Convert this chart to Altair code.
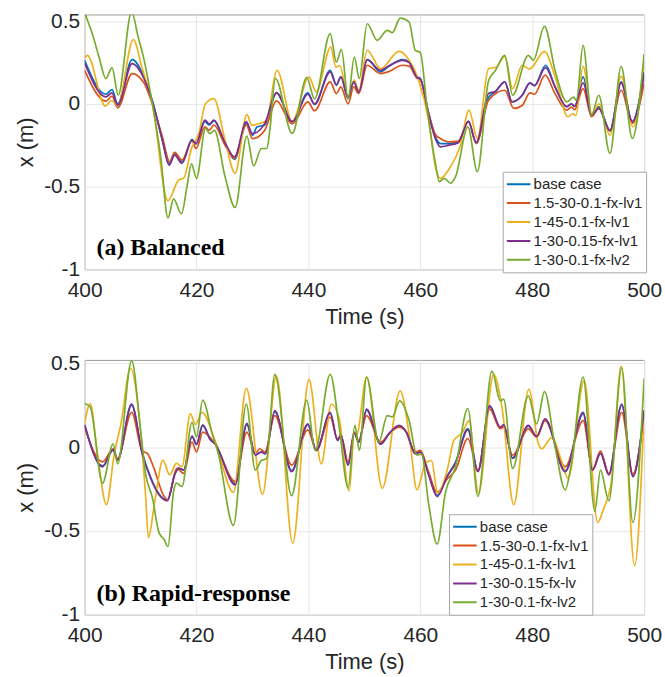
import altair as alt
import pandas as pd

FONT = "Liberation Sans"
SERIF = "Liberation Serif"
COLORS = ["#0072BD", "#D95319", "#EDB120", "#7E2F8E", "#77AC30"]
NAMES_A = ["base case", "1.5-30-0.1-fx-lv1", "1-45-0.1-fx-lv1", "1-30-0.15-fx-lv1", "1-30-0.1-fx-lv2"]
NAMES_B = ["base case", "1.5-30-0.1-fx-lv1", "1-45-0.1-fx-lv1", "1-30-0.15-fx-lv", "1-30-0.1-fx-lv2"]
X_TICKS = [400, 420, 440, 460, 480, 500]
Y_TICKS = [-1, -0.5, 0, 0.5]

# ---------------- Panel (a) Balanced ----------------
A_BASE_T = [400, 403.8, 404.9, 405.9, 408.5, 410.6, 412.1, 413.9, 415.1, 416.1, 417.4, 419.2, 419.9, 421.5, 422.3, 423.1,
            425.1, 426.8, 428.9, 430.0, 430.8, 432.2, 434.3, 437.1, 439.9, 441.1, 443.9, 445.0, 445.8, 447.1, 448.1, 449.0,
            450.5, 452.9, 454.4, 456.8, 458.0, 459.4, 460.0, 461.5, 462.7, 463.6, 465.1, 466.8, 468.6, 470.0, 472.2, 473.4,
            475.1, 476.4, 478.2, 479.6, 480.4, 482.4, 484.1, 486.2, 487.0, 487.6, 489.1, 490.6, 491.9, 493.9, 495.9, 497.9, 500]
A_BASE_X = [0.263, 0.058, 0.086, 0.0, 0.267, 0.163, 0.02, -0.22, -0.36, -0.30, -0.35, -0.215, -0.243, -0.108, -0.128, -0.102,
            -0.24, -0.335, -0.118, -0.19, -0.14, -0.128, 0.066, -0.108, 0.066, -0.004, 0.203, 0.116, 0.163, 0.032, 0.133, 0.072,
            0.267, 0.193, 0.227, 0.267, 0.253, 0.163, 0.153, -0.058, -0.2, -0.24, -0.24, -0.23, -0.104, -0.235, 0.038, 0.072,
            0.133, 0.012, 0.052, 0.127, 0.11, 0.233, 0.102, -0.018, 0.0, -0.015, 0.163, -0.068, -0.018, -0.159, 0.133, -0.108, 0.175]

A_R15_T = [400, 403.8, 404.9, 405.9, 408.5, 410.6, 412.1, 413.9, 415.2, 416.1, 417.4, 419.2, 419.9, 421.5, 422.3, 423.1,
           425.1, 426.8, 428.9, 430.0, 432.2, 434.3, 437.1, 439.9, 441.1, 443.9, 445.0, 445.8, 447.1, 448.1, 449.0,
           450.5, 452.9, 454.4, 456.8, 458.0, 459.4, 460.0, 461.5, 462.7, 463.6, 465.1, 466.8, 468.6, 470.0, 472.2,
           475.1, 476.7, 478.2, 479.6, 480.4, 482.3, 484.1, 486.2, 487.0, 487.6, 489.1, 490.6, 491.9, 493.9, 495.9, 497.9, 500]
A_R15_X = [0.203, 0.016, 0.046, -0.024, 0.183, 0.127, 0.0, -0.2, -0.35, -0.293, -0.34, -0.223, -0.27, -0.139, -0.159, -0.128,
           -0.25, -0.33, -0.128, -0.21, -0.159, 0.018, -0.122, 0.012, -0.042, 0.133, 0.062, 0.102, 0.0, 0.102, 0.062,
           0.233, 0.183, 0.195, 0.233, 0.228, 0.155, 0.145, -0.058, -0.185, -0.21, -0.23, -0.225, -0.108, -0.24, 0.022,
           0.082, -0.028, -0.01, 0.066, 0.058, 0.173, 0.06, -0.038, -0.02, -0.035, 0.092, -0.078, -0.028, -0.163, 0.082, -0.118, 0.125]

A_A45_T = [400, 400.5, 403.7, 404.8, 405.9, 408.7, 410.3, 412.1, 414.9, 416.8, 417.7, 419.2, 419.7, 420.4, 421.6, 423.1,
           425.1, 426.9, 429.0, 429.9, 431.1, 432.5, 434.4, 437.1, 440.1, 441.4, 444.0, 444.9, 445.6, 447.1, 448.2, 449.0,
           450.5, 452.9, 456.2, 458.0, 459.7, 461.5, 462.7, 463.6, 465.4, 467.1, 468.7, 470.2, 472.2, 473.5, 475.1, 476.5,
           478.2, 479.5, 482.2, 484.1, 486.4, 487.2, 487.8, 489.1, 490.7, 491.9, 493.9, 495.9, 498.0, 500]
A_A45_X = [0.275, 0.293, -0.014, 0.02, -0.008, 0.388, 0.213, 0.0, -0.586, -0.46, -0.45, -0.26, -0.23, -0.18, 0.0, 0.032,
           -0.22, -0.42, -0.065, -0.13, -0.12, -0.1, 0.203, -0.108, 0.163, 0.072, 0.343, 0.223, 0.23, 0.042, 0.143, 0.08,
           0.323, 0.213, 0.317, 0.263, 0.143, -0.1, -0.38, -0.45, -0.38, -0.26, -0.038, -0.209, 0.213, 0.22, 0.287, 0.092,
           0.233, 0.21, 0.317, 0.163, -0.078, -0.06, -0.07, 0.227, -0.068, 0.0, -0.189, 0.167, -0.139, 0.25]

A_D15_T = [400, 403.8, 404.9, 405.9, 408.5, 410.6, 412.1, 413.9, 415.1, 416.1, 417.4, 419.2, 419.9, 421.5, 422.3, 423.1,
           425.1, 426.8, 428.9, 430.0, 432.2, 434.3, 437.1, 439.9, 441.1, 443.9, 445.0, 445.8, 447.1, 448.1, 449.0,
           450.5, 452.9, 454.4, 456.8, 458.0, 459.4, 460.0, 461.5, 462.7, 463.6, 465.1, 466.8, 468.6, 470.0, 472.2, 473.4,
           475.1, 476.4, 478.2, 479.6, 480.4, 482.4, 484.1, 486.2, 487.0, 487.6, 489.1, 490.6, 491.9, 493.9, 495.9, 497.9, 500]
A_D15_X = [0.247, 0.042, 0.066, -0.008, 0.243, 0.153, 0.015, -0.22, -0.37, -0.31, -0.36, -0.22, -0.24, -0.098, -0.122, -0.098,
           -0.235, -0.32, -0.108, -0.18, -0.118, 0.066, -0.108, 0.058, 0.0, 0.193, 0.112, 0.163, 0.038, 0.133, 0.072,
           0.267, 0.203, 0.23, 0.263, 0.25, 0.16, 0.15, -0.065, -0.21, -0.26, -0.25, -0.235, -0.106, -0.235, 0.062, 0.075,
           0.133, 0.012, 0.05, 0.125, 0.11, 0.219, 0.1, -0.016, 0.0, -0.015, 0.127, -0.068, -0.028, -0.163, 0.127, -0.108, 0.19]

A_LV2_T = [400, 401.4, 402.6, 403.8, 404.9, 406.0, 408.4, 409.6, 410.6, 411.8, 413.6, 414.9, 415.9, 417.3, 418.3, 419.1,
           420.0, 421.6, 422.4, 423.2, 425.1, 426.9, 429.0, 430.2, 431.6, 432.6, 433.1, 434.1, 437.1, 439.7, 441.1, 443.9,
           445.0, 445.9, 447.1, 448.2, 449.1, 450.5, 452.3, 454.1, 455.0, 456.4, 458.0, 459.1, 460.0, 461.2, 462.7, 463.4,
           464.3, 465.4, 466.3, 468.5, 470.2, 472.2, 473.4, 475.1, 476.5, 479.3, 480.2, 482.2, 484.1, 486.2, 487.4, 487.9,
           489.1, 490.6, 491.9, 493.9, 495.9, 497.9, 500]
A_LV2_X = [0.55, 0.42, 0.28, 0.153, 0.219, 0.052, 0.554, 0.4, 0.27, 0.06, -0.32, -0.69, -0.574, -0.665, -0.5, -0.363,
           -0.45, -0.149, -0.18, -0.16, -0.44, -0.626, -0.195, -0.375, -0.27, -0.27, -0.16, 0.153, -0.179, 0.159, 0.03, 0.424,
           0.253, 0.329, 0.032, 0.283, 0.153, 0.484, 0.384, 0.444, 0.43, 0.518, 0.494, 0.323, 0.31, -0.02, -0.36, -0.47,
           -0.45, -0.48, -0.44, -0.139, -0.41, 0.14, 0.2, 0.293, 0.052, 0.293, 0.263, 0.468, 0.2, 0.012, 0.04, 0.02,
           0.353, -0.068, 0.052, -0.30, 0.227, -0.209, 0.3]

# ---------------- Panel (b) Rapid-response ----------------
B_D15_T = [400, 403.2, 405.1, 405.9, 408.4, 410.3, 411.8, 413.3, 414.8, 416.2, 416.8, 417.7, 419.2, 420.0, 421.1, 422.5,
           423.3, 426.9, 429.0, 430.5, 431.6, 432.3, 434.0, 437.0, 439.9, 441.4, 443.9, 445.2, 445.8, 447.1, 448.2, 449.0,
           450.4, 452.9, 454.4, 456.2, 457.5, 459.1, 460.0, 461.5, 463.0, 464.8, 466.3, 468.5, 470.3, 472.4, 474.3, 474.9,
           476.5, 479.3, 480.8, 482.3, 485.9, 489.1, 490.8, 492.2, 493.7, 496.0, 498.0, 500]
B_D15_X = [0.135, -0.118, -0.015, -0.078, 0.257, -0.04, -0.186, -0.284, -0.32, -0.157, -0.127, -0.137, 0.066, 0.017, 0.133, 0.044,
           0.02, -0.225, 0.142, -0.048, -0.03, -0.04, 0.217, -0.147, 0.139, -0.02, 0.207, 0.04, 0.07, -0.108, 0.084, 0.03,
           0.227, 0.017, 0.08, 0.13, 0.09, -0.04, -0.03, -0.167, -0.295, -0.176, -0.095, 0.103, -0.147, 0.247, 0.119, 0.133,
           -0.068, 0.129, 0.064, 0.168, -0.147, 0.207, -0.137, -0.038, -0.166, 0.257, -0.176, 0.22]

B_BASE_T = B_D15_T
B_BASE_X = [0.13, -0.112, -0.018, -0.075, 0.25, -0.035, -0.18, -0.28, -0.315, -0.152, -0.125, -0.135, 0.062, 0.015, 0.128, 0.042,
            0.02, -0.218, 0.136, -0.045, -0.028, -0.038, 0.21, -0.14, 0.134, -0.02, 0.2, 0.04, 0.068, -0.104, 0.082, 0.03,
            0.22, 0.018, 0.078, 0.126, 0.088, -0.038, -0.03, -0.162, -0.288, -0.172, -0.09, 0.11, -0.142, 0.24, 0.116, 0.13,
            -0.064, 0.125, 0.062, 0.163, -0.142, 0.2, -0.133, -0.036, -0.16, 0.25, -0.17, 0.215]

B_R15_T = [400, 403.2, 405.1, 405.9, 408.4, 410.3, 411.2, 412.4, 413.9, 414.8, 416.5, 417.7, 419.2, 420.0, 421.1, 423.3,
           426.9, 429.0, 430.5, 431.3, 432.2, 434.0, 437.0, 439.9, 441.4, 443.9, 445.2, 445.8, 447.1, 448.2, 449.0,
           450.4, 452.9, 454.4, 456.2, 457.5, 459.1, 460.0, 461.5, 463.0, 464.8, 466.3, 468.5, 470.3, 472.4, 474.3, 474.9,
           476.5, 479.3, 480.8, 482.3, 485.9, 489.1, 490.8, 492.2, 493.7, 496.0, 498.0, 500]
B_R15_X = [0.115, -0.088, -0.01, -0.068, 0.207, -0.023, -0.038, -0.127, -0.274, -0.314, -0.127, -0.157, 0.03, -0.029, 0.089, 0.02,
           -0.205, 0.089, -0.038, -0.01, -0.03, 0.188, -0.107, 0.103, -0.02, 0.178, 0.05, 0.07, -0.088, 0.09, 0.04,
           0.188, 0.03, 0.08, 0.119, 0.09, -0.03, -0.02, -0.15, -0.27, -0.19, -0.137, 0.05, -0.137, 0.227, 0.11, 0.12,
           -0.048, 0.109, 0.06, 0.158, -0.117, 0.158, -0.137, -0.023, -0.16, 0.207, -0.16, 0.19]

B_A45_T = [400, 401.0, 402.3, 403.9, 405.3, 406.5, 408.2, 409.7, 410.9, 411.4, 412.6, 414.0, 415.2, 416.4, 417.4, 418.9,
           419.8, 421.0, 423.3, 426.6, 428.9, 431.8, 434.3, 437.2, 440.1, 442.3, 444.1, 445.5, 447.3, 448.2, 448.6, 450.4,
           453.2, 456.4, 458.0, 459.4, 460.9, 462.0, 463.1, 464.8, 466.0, 467.5, 468.7, 470.4, 473.1, 474.6, 476.7, 479.4,
           481.1, 481.7, 483.5, 485.3, 486.4, 489.3, 491.7, 492.7, 494.2, 495.9, 498.3, 500]
B_A45_X = [0.14, 0.26, -0.04, -0.343, -0.04, 0.14, 0.47, 0.198, -0.29, -0.54, -0.31, -0.078, -0.166, -0.097, -0.117, 0.2,
           0.135, 0.207, 0.04, -0.27, 0.35, -0.28, 0.424, -0.573, 0.404, -0.1, 0.257, 0.17, -0.26, 0.08, 0.07, 0.418,
           -0.245, 0.335, 0.08, -0.255, -0.098, -0.08, -0.274, -0.137, 0.04, 0.085, 0.158, -0.274, 0.434, 0.237, -0.343, 0.345,
           0.02, -0.01, 0.056, -0.088, -0.186, 0.398, -0.45, -0.373, -0.196, 0.483, -0.707, 0.2]

B_LV2_T = [400, 401.0, 403.2, 405.1, 405.9, 408.4, 410.0, 410.9, 412.1, 413.3, 414.2, 414.9, 415.9, 416.4, 417.4, 419.2,
           420.0, 421.1, 422.8, 423.9, 426.6, 428.9, 430.5, 431.6, 432.5, 434.0, 437.0, 439.7, 441.2, 443.9, 445.5, 447.1,
           448.3, 449.1, 450.4, 452.6, 454.1, 455.0, 456.3, 458.0, 459.4, 460.2, 461.5, 463.0, 464.5, 466.3, 468.5, 470.3,
           472.8, 474.3, 474.9, 476.5, 479.3, 480.8, 482.2, 484.1, 485.9, 487.0, 489.1, 491.2, 492.2, 493.7, 496.0, 498.0, 500]
B_LV2_X = [0.26, 0.24, -0.216, 0.02, -0.1, 0.516, 0.1, -0.16, -0.3, -0.51, -0.55, -0.593, -0.265, -0.215, -0.235, 0.148,
           0.06, 0.28, 0.08, -0.04, -0.467, 0.257, -0.137, -0.08, -0.07, 0.434, -0.29, 0.28, -0.02, 0.434, 0.12, -0.245,
           0.13, -0.02, 0.418, 0.03, 0.188, 0.18, 0.276, 0.158, -0.048, -0.04, -0.34, -0.579, -0.27, -0.117, 0.23, -0.294,
           0.453, 0.276, 0.286, -0.127, 0.306, 0.139, 0.331, 0.0, -0.255, -0.1, 0.418, -0.383, -0.137, -0.32, 0.473, -0.45, 0.41]


def make_df(names, series):
    rows = []
    for k, (ts, xs) in enumerate(series):
        for t, x in zip(ts, xs):
            rows.append({"series": names[k], "k": k, "t": t, "x": x})
    return pd.DataFrame(rows)


df_a = make_df(NAMES_A, [(A_BASE_T, A_BASE_X), (A_R15_T, A_R15_X), (A_A45_T, A_A45_X),
                         (A_D15_T, A_D15_X), (A_LV2_T, A_LV2_X)])
df_b = make_df(NAMES_B, [(B_BASE_T, B_BASE_X), (B_R15_T, B_R15_X), (B_A45_T, B_A45_X),
                         (B_D15_T, B_D15_X), (B_LV2_T, B_LV2_X)])


def panel(df, names, ymax, label, lx, ly):
    lines = alt.Chart(df).mark_line(interpolate="monotone", strokeWidth=1.7, clip=True).encode(
        x=alt.X("t:Q", scale=alt.Scale(domain=[400, 500], nice=False, zero=False),
                axis=alt.Axis(values=X_TICKS, title="Time (s)", format="d")),
        y=alt.Y("x:Q", scale=alt.Scale(domain=[-1, ymax], nice=False, zero=False),
                axis=alt.Axis(values=Y_TICKS, title="x (m)", labelExpr="'' + datum.value",
                              labelPadding=5)),
        color=alt.Color("series:N", sort=names,
                        scale=alt.Scale(domain=names, range=COLORS),
                        legend=alt.Legend(title=None, orient="none", legendX=lx, legendY=ly,
                                          symbolType="stroke", symbolSize=560, symbolStrokeWidth=2,
                                          clipHeight=19, labelFont=FONT, labelFontSize=15,
                                          labelColor="#262626", fillColor="white",
                                          strokeColor="#a8a8a8", padding=3, rowPadding=0,
                                          labelOffset=2)),
        order=alt.Order("t:Q"),
    )
    txt = alt.Chart(pd.DataFrame({"label": [label]})).mark_text(
        align="left", baseline="alphabetic", font=SERIF, fontWeight="bold", fontSize=24, color="black"
    ).encode(x=alt.value(12), y=alt.value(242), text="label:N")
    return alt.layer(lines, txt).properties(width=562, height=256)


top = panel(df_a, NAMES_A, 0.54, "(a) Balanced", 420, 158)
bottom = panel(df_b, NAMES_B, 0.52, "(b) Rapid-response", 366, 155)

chart = alt.vconcat(top, bottom, spacing=23).resolve_scale(color="independent").properties(
    padding={"left": 14, "top": 8, "right": 2, "bottom": 3},
    background="white"
).configure_view(
    stroke="#9a9a9a", strokeWidth=1
).configure_axis(
    domain=False, ticks=False, grid=True, gridColor="#e6e6e6", gridWidth=1,
    labelFont=FONT, labelFontSize=21, labelColor="#262626", labelPadding=10, labelFlush=False,
    titleFont=FONT, titleFontSize=22, titleColor="#262626", titleFontWeight="normal", titlePadding=6
)

chart.save("out.html", embed_options={"renderer": "svg", "actions": False})
